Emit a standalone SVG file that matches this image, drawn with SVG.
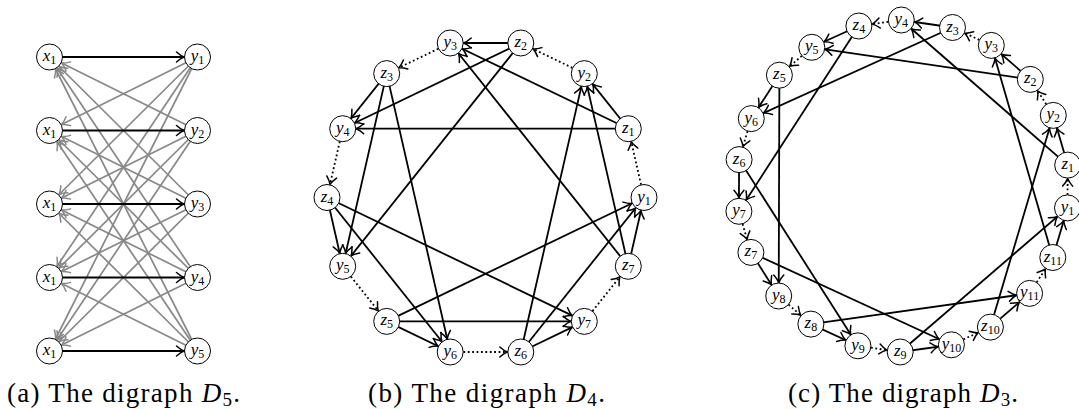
<svg xmlns="http://www.w3.org/2000/svg" width="1079" height="409" viewBox="0 0 1079 409">
<style>
.nd circle{fill:#fff;stroke:#000;stroke-width:1}
.lbl{font-family:"Liberation Serif","DejaVu Serif",serif;font-size:17px;font-style:italic;text-anchor:middle;fill:#000}
.sub{font-size:12px;font-style:normal}
.e{stroke:#000;stroke-width:1.8;fill:none;marker-end:url(#ab)}
.g{stroke:#888;stroke-width:1.7;fill:none;marker-end:url(#ag)}
.d{stroke:#000;stroke-width:1.8;fill:none;stroke-dasharray:1.8 2.6;marker-end:url(#ab)}
.cap{font-family:"Liberation Serif","DejaVu Serif",serif;font-size:27px;fill:#000}
</style>
<defs>
<marker id="ab" viewBox="-30 -10 40 20" markerWidth="40" markerHeight="20" refX="0" refY="0" orient="auto" markerUnits="userSpaceOnUse"><path d="M-21,-5 Q-16.8,-1.3 -13.5,0 Q-16.8,1.3 -21,5" fill="none" stroke="#000" stroke-width="1.5" stroke-linecap="round"/></marker>
<marker id="ag" viewBox="-30 -10 40 20" markerWidth="40" markerHeight="20" refX="0" refY="0" orient="auto" markerUnits="userSpaceOnUse"><path d="M-21,-5 Q-16.8,-1.3 -13.5,0 Q-16.8,1.3 -21,5" fill="none" stroke="#888" stroke-width="1.5" stroke-linecap="round"/></marker>
</defs>

<g id="connectors">
<g id="conn-a">
<line class="g" x1="197.5" y1="57" x2="49.5" y2="130.5"/>
<line class="g" x1="197.5" y1="57" x2="49.5" y2="204"/>
<line class="g" x1="197.5" y1="57" x2="49.5" y2="277.5"/>
<line class="g" x1="197.5" y1="57" x2="49.5" y2="351"/>
<line class="g" x1="197.5" y1="130.5" x2="49.5" y2="57"/>
<line class="g" x1="197.5" y1="130.5" x2="49.5" y2="204"/>
<line class="g" x1="197.5" y1="130.5" x2="49.5" y2="277.5"/>
<line class="g" x1="197.5" y1="130.5" x2="49.5" y2="351"/>
<line class="g" x1="197.5" y1="204" x2="49.5" y2="57"/>
<line class="g" x1="197.5" y1="204" x2="49.5" y2="130.5"/>
<line class="g" x1="197.5" y1="204" x2="49.5" y2="277.5"/>
<line class="g" x1="197.5" y1="204" x2="49.5" y2="351"/>
<line class="g" x1="197.5" y1="277.5" x2="49.5" y2="57"/>
<line class="g" x1="197.5" y1="277.5" x2="49.5" y2="130.5"/>
<line class="g" x1="197.5" y1="277.5" x2="49.5" y2="204"/>
<line class="g" x1="197.5" y1="277.5" x2="49.5" y2="351"/>
<line class="g" x1="197.5" y1="351" x2="49.5" y2="57"/>
<line class="g" x1="197.5" y1="351" x2="49.5" y2="130.5"/>
<line class="g" x1="197.5" y1="351" x2="49.5" y2="204"/>
<line class="g" x1="197.5" y1="351" x2="49.5" y2="277.5"/>
<line class="e" x1="49.5" y1="57" x2="197.5" y2="57"/>
<line class="e" x1="49.5" y1="130.5" x2="197.5" y2="130.5"/>
<line class="e" x1="49.5" y1="204" x2="197.5" y2="204"/>
<line class="e" x1="49.5" y1="277.5" x2="197.5" y2="277.5"/>
<line class="e" x1="49.5" y1="351" x2="197.5" y2="351"/>
</g>
<g id="conn-b">
<line class="d" x1="644" y1="197.5" x2="628.3" y2="128.7"/>
<line class="d" x1="584.3" y1="73.6" x2="520.8" y2="43"/>
<line class="d" x1="450.2" y1="43" x2="386.7" y2="73.6"/>
<line class="d" x1="342.7" y1="128.7" x2="327" y2="197.5"/>
<line class="d" x1="342.7" y1="266.3" x2="386.7" y2="321.4"/>
<line class="d" x1="450.2" y1="352" x2="520.8" y2="352"/>
<line class="d" x1="584.3" y1="321.4" x2="628.3" y2="266.3"/>
<line class="e" x1="628.3" y1="128.7" x2="584.3" y2="73.6"/>
<line class="e" x1="628.3" y1="128.7" x2="450.2" y2="43"/>
<line class="e" x1="628.3" y1="128.7" x2="342.7" y2="128.7"/>
<line class="e" x1="520.8" y1="43" x2="450.2" y2="43"/>
<line class="e" x1="520.8" y1="43" x2="342.7" y2="128.7"/>
<line class="e" x1="520.8" y1="43" x2="342.7" y2="266.3"/>
<line class="e" x1="386.7" y1="73.6" x2="342.7" y2="128.7"/>
<line class="e" x1="386.7" y1="73.6" x2="342.7" y2="266.3"/>
<line class="e" x1="386.7" y1="73.6" x2="450.2" y2="352"/>
<line class="e" x1="327" y1="197.5" x2="342.7" y2="266.3"/>
<line class="e" x1="327" y1="197.5" x2="450.2" y2="352"/>
<line class="e" x1="327" y1="197.5" x2="584.3" y2="321.4"/>
<line class="e" x1="386.7" y1="321.4" x2="450.2" y2="352"/>
<line class="e" x1="386.7" y1="321.4" x2="584.3" y2="321.4"/>
<line class="e" x1="386.7" y1="321.4" x2="644" y2="197.5"/>
<line class="e" x1="520.8" y1="352" x2="584.3" y2="321.4"/>
<line class="e" x1="520.8" y1="352" x2="644" y2="197.5"/>
<line class="e" x1="520.8" y1="352" x2="584.3" y2="73.6"/>
<line class="e" x1="628.3" y1="266.3" x2="644" y2="197.5"/>
<line class="e" x1="628.3" y1="266.3" x2="584.3" y2="73.6"/>
<line class="e" x1="628.3" y1="266.3" x2="450.2" y2="43"/>
</g>
<g id="conn-c">
<line class="d" x1="1067.5" y1="207.9" x2="1067.7" y2="165.1"/>
<line class="d" x1="1053.3" y1="115.4" x2="1030.3" y2="79.4"/>
<line class="d" x1="991.3" y1="45.4" x2="952.5" y2="27.5"/>
<line class="d" x1="901.3" y1="20" x2="858.9" y2="26"/>
<line class="d" x1="811.8" y1="47.3" x2="779.4" y2="75.2"/>
<line class="d" x1="751.3" y1="118.6" x2="739.1" y2="159.6"/>
<line class="d" x1="738.9" y1="211.3" x2="750.9" y2="252.4"/>
<line class="d" x1="778.7" y1="296" x2="810.9" y2="324.1"/>
<line class="d" x1="857.9" y1="345.8" x2="900.2" y2="352"/>
<line class="d" x1="951.4" y1="344.8" x2="990.4" y2="327.1"/>
<line class="d" x1="1029.6" y1="293.4" x2="1052.8" y2="257.5"/>
<line class="e" x1="1067.7" y1="165.1" x2="1053.3" y2="115.4"/>
<line class="e" x1="1067.7" y1="165.1" x2="901.3" y2="20"/>
<line class="e" x1="1030.3" y1="79.4" x2="991.3" y2="45.4"/>
<line class="e" x1="1030.3" y1="79.4" x2="811.8" y2="47.3"/>
<line class="e" x1="952.5" y1="27.5" x2="901.3" y2="20"/>
<line class="e" x1="952.5" y1="27.5" x2="751.3" y2="118.6"/>
<line class="e" x1="858.9" y1="26" x2="811.8" y2="47.3"/>
<line class="e" x1="858.9" y1="26" x2="738.9" y2="211.3"/>
<line class="e" x1="779.4" y1="75.2" x2="751.3" y2="118.6"/>
<line class="e" x1="779.4" y1="75.2" x2="778.7" y2="296"/>
<line class="e" x1="739.1" y1="159.6" x2="738.9" y2="211.3"/>
<line class="e" x1="739.1" y1="159.6" x2="857.9" y2="345.8"/>
<line class="e" x1="750.9" y1="252.4" x2="778.7" y2="296"/>
<line class="e" x1="750.9" y1="252.4" x2="951.4" y2="344.8"/>
<line class="e" x1="810.9" y1="324.1" x2="857.9" y2="345.8"/>
<line class="e" x1="810.9" y1="324.1" x2="1029.6" y2="293.4"/>
<line class="e" x1="900.2" y1="352" x2="951.4" y2="344.8"/>
<line class="e" x1="900.2" y1="352" x2="1067.5" y2="207.9"/>
<line class="e" x1="990.4" y1="327.1" x2="1029.6" y2="293.4"/>
<line class="e" x1="990.4" y1="327.1" x2="1053.3" y2="115.4"/>
<line class="e" x1="1052.8" y1="257.5" x2="1067.5" y2="207.9"/>
<line class="e" x1="1052.8" y1="257.5" x2="991.3" y2="45.4"/>
</g>
</g>

<g id="nodes-a">
<g id="a-x1" class="nd"><circle cx="49.5" cy="57" r="13"/><text class="lbl" x="49.5" y="61">x<tspan class="sub" dy="3">1</tspan></text></g>
<g id="a-x2" class="nd"><circle cx="49.5" cy="130.5" r="13"/><text class="lbl" x="49.5" y="134.5">x<tspan class="sub" dy="3">1</tspan></text></g>
<g id="a-x3" class="nd"><circle cx="49.5" cy="204" r="13"/><text class="lbl" x="49.5" y="208">x<tspan class="sub" dy="3">1</tspan></text></g>
<g id="a-x4" class="nd"><circle cx="49.5" cy="277.5" r="13"/><text class="lbl" x="49.5" y="281.5">x<tspan class="sub" dy="3">1</tspan></text></g>
<g id="a-x5" class="nd"><circle cx="49.5" cy="351" r="13"/><text class="lbl" x="49.5" y="355">x<tspan class="sub" dy="3">1</tspan></text></g>
<g id="a-y1" class="nd"><circle cx="197.5" cy="57" r="13"/><text class="lbl" x="197.5" y="61">y<tspan class="sub" dy="3">1</tspan></text></g>
<g id="a-y2" class="nd"><circle cx="197.5" cy="130.5" r="13"/><text class="lbl" x="197.5" y="134.5">y<tspan class="sub" dy="3">2</tspan></text></g>
<g id="a-y3" class="nd"><circle cx="197.5" cy="204" r="13"/><text class="lbl" x="197.5" y="208">y<tspan class="sub" dy="3">3</tspan></text></g>
<g id="a-y4" class="nd"><circle cx="197.5" cy="277.5" r="13"/><text class="lbl" x="197.5" y="281.5">y<tspan class="sub" dy="3">4</tspan></text></g>
<g id="a-y5" class="nd"><circle cx="197.5" cy="351" r="13"/><text class="lbl" x="197.5" y="355">y<tspan class="sub" dy="3">5</tspan></text></g>
</g>

<g id="nodes-b">
<g id="b-y1" class="nd"><circle cx="644" cy="197.5" r="13"/><text class="lbl" x="644" y="201.5">y<tspan class="sub" dy="3">1</tspan></text></g>
<g id="b-z1" class="nd"><circle cx="628.3" cy="128.7" r="13"/><text class="lbl" x="628.3" y="132.7">z<tspan class="sub" dy="3">1</tspan></text></g>
<g id="b-y2" class="nd"><circle cx="584.3" cy="73.6" r="13"/><text class="lbl" x="584.3" y="77.6">y<tspan class="sub" dy="3">2</tspan></text></g>
<g id="b-z2" class="nd"><circle cx="520.8" cy="43" r="13"/><text class="lbl" x="520.8" y="47">z<tspan class="sub" dy="3">2</tspan></text></g>
<g id="b-y3" class="nd"><circle cx="450.2" cy="43" r="13"/><text class="lbl" x="450.2" y="47">y<tspan class="sub" dy="3">3</tspan></text></g>
<g id="b-z3" class="nd"><circle cx="386.7" cy="73.6" r="13"/><text class="lbl" x="386.7" y="77.6">z<tspan class="sub" dy="3">3</tspan></text></g>
<g id="b-y4" class="nd"><circle cx="342.7" cy="128.7" r="13"/><text class="lbl" x="342.7" y="132.7">y<tspan class="sub" dy="3">4</tspan></text></g>
<g id="b-z4" class="nd"><circle cx="327" cy="197.5" r="13"/><text class="lbl" x="327" y="201.5">z<tspan class="sub" dy="3">4</tspan></text></g>
<g id="b-y5" class="nd"><circle cx="342.7" cy="266.3" r="13"/><text class="lbl" x="342.7" y="270.3">y<tspan class="sub" dy="3">5</tspan></text></g>
<g id="b-z5" class="nd"><circle cx="386.7" cy="321.4" r="13"/><text class="lbl" x="386.7" y="325.4">z<tspan class="sub" dy="3">5</tspan></text></g>
<g id="b-y6" class="nd"><circle cx="450.2" cy="352" r="13"/><text class="lbl" x="450.2" y="356">y<tspan class="sub" dy="3">6</tspan></text></g>
<g id="b-z6" class="nd"><circle cx="520.8" cy="352" r="13"/><text class="lbl" x="520.8" y="356">z<tspan class="sub" dy="3">6</tspan></text></g>
<g id="b-y7" class="nd"><circle cx="584.3" cy="321.4" r="13"/><text class="lbl" x="584.3" y="325.4">y<tspan class="sub" dy="3">7</tspan></text></g>
<g id="b-z7" class="nd"><circle cx="628.3" cy="266.3" r="13"/><text class="lbl" x="628.3" y="270.3">z<tspan class="sub" dy="3">7</tspan></text></g>
</g>

<g id="nodes-c">
<g id="c-y1" class="nd"><circle cx="1067.5" cy="207.9" r="13"/><text class="lbl" x="1067.5" y="211.9">y<tspan class="sub" dy="3">1</tspan></text></g>
<g id="c-z1" class="nd"><circle cx="1067.7" cy="165.1" r="13"/><text class="lbl" x="1067.7" y="169.1">z<tspan class="sub" dy="3">1</tspan></text></g>
<g id="c-y2" class="nd"><circle cx="1053.3" cy="115.4" r="13"/><text class="lbl" x="1053.3" y="119.4">y<tspan class="sub" dy="3">2</tspan></text></g>
<g id="c-z2" class="nd"><circle cx="1030.3" cy="79.4" r="13"/><text class="lbl" x="1030.3" y="83.4">z<tspan class="sub" dy="3">2</tspan></text></g>
<g id="c-y3" class="nd"><circle cx="991.3" cy="45.4" r="13"/><text class="lbl" x="991.3" y="49.4">y<tspan class="sub" dy="3">3</tspan></text></g>
<g id="c-z3" class="nd"><circle cx="952.5" cy="27.5" r="13"/><text class="lbl" x="952.5" y="31.5">z<tspan class="sub" dy="3">3</tspan></text></g>
<g id="c-y4" class="nd"><circle cx="901.3" cy="20" r="13"/><text class="lbl" x="901.3" y="24">y<tspan class="sub" dy="3">4</tspan></text></g>
<g id="c-z4" class="nd"><circle cx="858.9" cy="26" r="13"/><text class="lbl" x="858.9" y="30">z<tspan class="sub" dy="3">4</tspan></text></g>
<g id="c-y5" class="nd"><circle cx="811.8" cy="47.3" r="13"/><text class="lbl" x="811.8" y="51.3">y<tspan class="sub" dy="3">5</tspan></text></g>
<g id="c-z5" class="nd"><circle cx="779.4" cy="75.2" r="13"/><text class="lbl" x="779.4" y="79.2">z<tspan class="sub" dy="3">5</tspan></text></g>
<g id="c-y6" class="nd"><circle cx="751.3" cy="118.6" r="13"/><text class="lbl" x="751.3" y="122.6">y<tspan class="sub" dy="3">6</tspan></text></g>
<g id="c-z6" class="nd"><circle cx="739.1" cy="159.6" r="13"/><text class="lbl" x="739.1" y="163.6">z<tspan class="sub" dy="3">6</tspan></text></g>
<g id="c-y7" class="nd"><circle cx="738.9" cy="211.3" r="13"/><text class="lbl" x="738.9" y="215.3">y<tspan class="sub" dy="3">7</tspan></text></g>
<g id="c-z7" class="nd"><circle cx="750.9" cy="252.4" r="13"/><text class="lbl" x="750.9" y="256.4">z<tspan class="sub" dy="3">7</tspan></text></g>
<g id="c-y8" class="nd"><circle cx="778.7" cy="296" r="13"/><text class="lbl" x="778.7" y="300">y<tspan class="sub" dy="3">8</tspan></text></g>
<g id="c-z8" class="nd"><circle cx="810.9" cy="324.1" r="13"/><text class="lbl" x="810.9" y="328.1">z<tspan class="sub" dy="3">8</tspan></text></g>
<g id="c-y9" class="nd"><circle cx="857.9" cy="345.8" r="13"/><text class="lbl" x="857.9" y="349.8">y<tspan class="sub" dy="3">9</tspan></text></g>
<g id="c-z9" class="nd"><circle cx="900.2" cy="352" r="13"/><text class="lbl" x="900.2" y="356">z<tspan class="sub" dy="3">9</tspan></text></g>
<g id="c-y10" class="nd"><circle cx="951.4" cy="344.8" r="13"/><text class="lbl" x="951.4" y="348.8">y<tspan class="sub" dy="3">10</tspan></text></g>
<g id="c-z10" class="nd"><circle cx="990.4" cy="327.1" r="13"/><text class="lbl" x="990.4" y="331.1">z<tspan class="sub" dy="3">10</tspan></text></g>
<g id="c-y11" class="nd"><circle cx="1029.6" cy="293.4" r="13"/><text class="lbl" x="1029.6" y="297.4">y<tspan class="sub" dy="3">11</tspan></text></g>
<g id="c-z11" class="nd"><circle cx="1052.8" cy="257.5" r="13"/><text class="lbl" x="1052.8" y="261.5">z<tspan class="sub" dy="3">11</tspan></text></g>
</g>

<g id="captions">
<text class="cap" x="7" y="402" textLength="233" lengthAdjust="spacing">(a) The digraph <tspan font-style="italic">D</tspan><tspan font-size="19" dy="4">5</tspan><tspan dy="-4">.</tspan></text>
<text class="cap" x="368" y="402" textLength="237" lengthAdjust="spacing">(b) The digraph <tspan font-style="italic">D</tspan><tspan font-size="19" dy="4">4</tspan><tspan dy="-4">.</tspan></text>
<text class="cap" x="788" y="402" textLength="230" lengthAdjust="spacing">(c) The digraph <tspan font-style="italic">D</tspan><tspan font-size="19" dy="4">3</tspan><tspan dy="-4">.</tspan></text>
</g>
</svg>
